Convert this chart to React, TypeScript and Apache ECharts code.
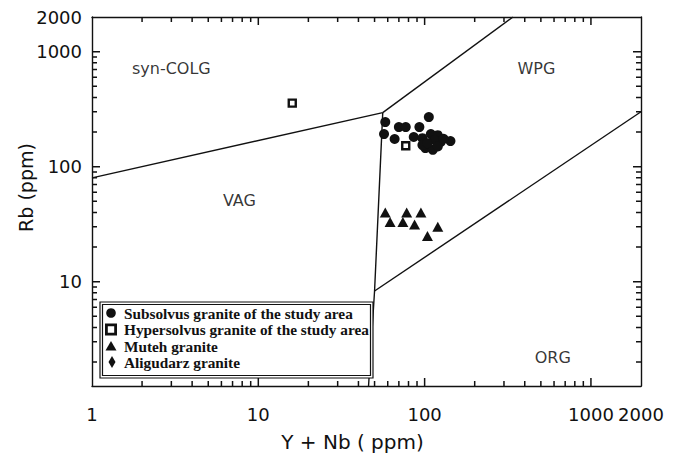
import React, { useEffect, useRef } from "react";
import * as echarts from "echarts";

// ---- data (original units, ppm) ----
const subsolvusYNb = [58, 57, 66, 70, 77, 93, 106, 86, 97, 109, 120, 101, 112, 125, 143, 97, 115, 104, 120, 130];
const subsolvusRb = [244, 192, 174, 221, 221, 221, 270, 181, 177, 192, 188, 145, 140, 164, 167, 154, 170, 160, 150, 175];

const hypersolvusYNb = [16, 77];
const hypersolvusRb = [357, 152];

const mutehYNb = [58, 78, 95, 62, 74, 87, 120, 104];
const mutehRb = [40, 40, 40, 33, 33, 31.5, 30, 25];

const aligudarzYNb: number[] = [];
const aligudarzRb: number[] = [];

// discrimination boundaries (Y+Nb, Rb)
const boundaryVagSyn = [[1, 80], [56, 295]];
const boundarySynWpg = [[56, 295], [340, 2000]];
const boundaryVertical = [[56, 295], [50, 8.3], [46, 1.24]];
const boundaryWpgOrg = [[50, 8.3], [2000, 300]];

const regionNames = ["syn-COLG", "WPG", "VAG", "ORG"];
const regionYNb = [3.0, 470, 7.7, 590];
const regionRb = [720, 720, 51, 2.2];

const legendNames = [
  "Subsolvus granite of the study area",
  "Hypersolvus granite of the study area",
  "Muteh granite",
  "Aligudarz granite",
];

// axes
const xMin = 1;
const xMax = 2000;
const yMin = 1.24;
const yMax = 2000;
const xLabelValues = [1, 10, 100, 1000, 2000];
const yLabelValues = [10, 100, 1000, 2000];
const majorTicks = [10, 100, 1000];
const minorTicks = [2, 3, 4, 5, 6, 7, 8, 9, 20, 30, 40, 50, 60, 70, 80, 90, 200, 300, 400, 500, 600, 700, 800, 900];

const lg = (v: number) => Math.log10(v);
const pairs = (xs: number[], ys: number[]) => xs.map((x, i) => [lg(x), lg(ys[i])]);
const logLine = (pts: number[][]) => pts.map(([x, y]) => [lg(x), lg(y)]);

const INK = "#111";
const labelFmt = (v: number) => String(Math.round(Math.pow(10, v)));

const LX0 = lg(xMin), LX1 = lg(xMax), LY0 = lg(yMin), LY1 = lg(yMax);

const GRID = { left: 92, top: 17, right: 50, bottom: 75 };
const PLOT_W = 691 - GRID.left - GRID.right;
const PLOT_H = 461 - GRID.top - GRID.bottom;

function baseAxis(min: number, max: number, position: string) {
  return {
    type: "value",
    position,
    min,
    max,
    splitLine: { show: false },
    axisLine: { show: true, onZero: false, lineStyle: { color: INK, width: 1.4 } },
    axisTick: { show: false },
    axisLabel: { show: false },
  } as any;
}

const lineSeries = (name: string, pts: number[][]) => ({
  name,
  type: "line",
  data: logLine(pts),
  symbol: "none",
  lineStyle: { color: INK, width: 1.4 },
  z: 2,
  silent: true,
});

// inside tick marks on the four frame sides, as a broken polyline in axis units
function tickPolyData() {
  const out: any[] = [];
  const perPxX = (LX1 - LX0) / PLOT_W;
  const perPxY = (LY1 - LY0) / PLOT_H;
  const add = (vals: number[], len: number) => {
    vals.forEach((v) => {
      const l = lg(v);
      if (v > xMin && v < xMax) {
        out.push([l, LY0], [l, LY0 + len * perPxY], "-");
        out.push([l, LY1], [l, LY1 - len * perPxY], "-");
      }
      if (v > yMin && v < yMax) {
        out.push([LX0, l], [LX0 + len * perPxX, l], "-");
        out.push([LX1, l], [LX1 - len * perPxX, l], "-");
      }
    });
  };
  add(majorTicks, 8);
  add(minorTicks, 5);
  return out;
}

// legend box drawn as graphic elements
function legendGraphic() {
  const rowY = [313, 329.5, 346, 362];
  const textX = 124;
  const els: any[] = [
    { type: "rect", z: 20, silent: true, shape: { x: 100, y: 302, width: 273, height: 76 }, style: { fill: "#fff", stroke: INK, lineWidth: 1.2 } },
    { type: "rect", z: 20, silent: true, shape: { x: 102.5, y: 304.5, width: 268, height: 71 }, style: { fill: "none", stroke: INK, lineWidth: 1.2 } },
    { type: "circle", z: 21, silent: true, shape: { cx: 111, cy: rowY[0], r: 4.8 }, style: { fill: INK } },
    { type: "rect", z: 21, silent: true, shape: { x: 106.4, y: rowY[1] - 4.6, width: 9.2, height: 9.2 }, style: { fill: "#fff", stroke: INK, lineWidth: 2.8 } },
    { type: "polygon", z: 21, silent: true, shape: { points: [[111, rowY[2] - 5], [116.5, rowY[2] + 4.5], [105.5, rowY[2] + 4.5]] }, style: { fill: INK } },
    { type: "polygon", z: 21, silent: true, shape: { points: [[112, rowY[3] - 6], [115.5, rowY[3]], [112, rowY[3] + 6], [108.5, rowY[3]]] }, style: { fill: INK } },
  ];
  legendNames.forEach((name, i) => {
    els.push({
      type: "text",
      z: 21,
      silent: true,
      x: textX,
      y: rowY[i],
      style: {
        text: name,
        fontFamily: "Liberation Serif",
        fontWeight: "bold",
        fontSize: 15.3,
        fill: INK,
        align: "left",
        verticalAlign: "middle",
      },
    });
  });
  return els;
}

export default function App() {
  const ref = useRef<HTMLDivElement>(null);
  useEffect(() => {
    if (!ref.current) return;
    const chart = echarts.init(ref.current, undefined, { renderer: "svg" });

    const xBottom = baseAxis(LX0, LX1, "bottom");
    xBottom.axisLabel = {
      show: true,
      customValues: xLabelValues.map(lg),
      formatter: labelFmt,
      color: INK,
      fontFamily: "DejaVu Sans",
      fontSize: 18,
      margin: 19,
      hideOverlap: false,
    };
    xBottom.name = "Y + Nb ( ppm)";
    xBottom.nameLocation = "middle";
    xBottom.nameGap = 46;
    xBottom.nameTextStyle = { color: INK, fontFamily: "DejaVu Sans", fontSize: 20, padding: [0, 28, 0, 0] };

    const yLeft = baseAxis(LY0, LY1, "left");
    yLeft.axisLabel = {
      show: true,
      customValues: yLabelValues.map(lg),
      formatter: labelFmt,
      color: INK,
      fontFamily: "DejaVu Sans",
      fontSize: 18,
      margin: 10,
      hideOverlap: false,
    };
    yLeft.name = "Rb (ppm)";
    yLeft.nameLocation = "middle";
    yLeft.nameGap = 57;
    yLeft.nameMoveOverlap = false;
    yLeft.nameTextStyle = { color: INK, fontFamily: "DejaVu Sans", fontSize: 19, padding: [0, 0, 0, 28] };

    const option: any = {
      animation: false,
      backgroundColor: "#fff",
      grid: { ...GRID, containLabel: false },
      xAxis: [xBottom, baseAxis(LX0, LX1, "top")],
      yAxis: [yLeft, baseAxis(LY0, LY1, "right")],
      graphic: legendGraphic(),
      series: [
        {
          name: "ticks",
          type: "line",
          data: tickPolyData(),
          symbol: "none",
          connectNulls: false,
          lineStyle: { color: INK, width: 1.5 },
          silent: true,
          z: 6,
        },
        lineSeries("VAG / syn-COLG", boundaryVagSyn),
        lineSeries("syn-COLG / WPG", boundarySynWpg),
        lineSeries("VAG-ORG / WPG", boundaryVertical),
        lineSeries("WPG / ORG", boundaryWpgOrg),
        {
          name: legendNames[0],
          type: "scatter",
          symbol: "circle",
          symbolSize: 10,
          itemStyle: { color: INK, opacity: 1 },
          data: pairs(subsolvusYNb, subsolvusRb),
          z: 4,
        },
        {
          name: legendNames[1],
          type: "scatter",
          symbol: "rect",
          symbolSize: 7,
          itemStyle: { color: "#fff", borderColor: INK, borderWidth: 2.4, opacity: 1 },
          data: pairs(hypersolvusYNb, hypersolvusRb),
          z: 5,
        },
        {
          name: legendNames[2],
          type: "scatter",
          symbol: "triangle",
          symbolSize: [11, 10],
          itemStyle: { color: INK, opacity: 1 },
          data: pairs(mutehYNb, mutehRb),
          z: 4,
        },
        {
          name: legendNames[3],
          type: "scatter",
          symbol: "diamond",
          symbolSize: [7, 12],
          itemStyle: { color: INK, opacity: 1 },
          data: pairs(aligudarzYNb, aligudarzRb),
          z: 4,
        },
        {
          name: "regions",
          type: "scatter",
          symbolSize: 1,
          itemStyle: { color: "rgba(0,0,0,0)" },
          silent: true,
          label: {
            show: true,
            position: "inside",
            formatter: (p: any) => p.name,
            color: "#000",
            fontFamily: "DejaVu Sans",
            fontSize: 16,
          },
          data: regionNames.map((n, i) => ({ name: n, value: [lg(regionYNb[i]), lg(regionRb[i])] })),
          z: 3,
        },
      ],
    };
    chart.setOption(option);
    return () => chart.dispose();
  }, []);
  return (
    <div
      ref={ref}
      style={{ position: "fixed", left: 0, top: 0, width: 691, height: 461, background: "#fff" }}
    />
  );
}
